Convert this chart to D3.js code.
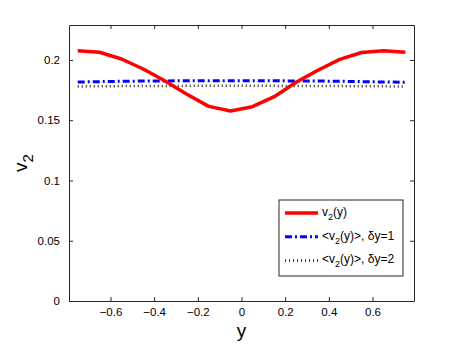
<!DOCTYPE html>
<html>
<head>
<meta charset="utf-8">
<script src="https://cdn.jsdelivr.net/npm/d3@7"></script>
<style>
  body { margin: 0; background: #fff; }
  text { font-family: "Liberation Sans", Arial, sans-serif; }
</style>
</head>
<body>
<script>
// datos
const yPos = [-0.75, -0.65, -0.55, -0.45, -0.35, -0.25, -0.15, -0.05, 0.05, 0.15, 0.25, 0.35, 0.45, 0.55, 0.65, 0.75];
const v2 = [0.2077, 0.2064, 0.2008, 0.1925, 0.1826, 0.1715, 0.1615, 0.1577, 0.1612, 0.1695, 0.1815, 0.1915, 0.2005, 0.2062, 0.2077, 0.2064];
const v2avg1 = [0.1817, 0.1820, 0.1823, 0.1825, 0.1826, 0.1827, 0.1827, 0.1827, 0.1827, 0.1827, 0.1826, 0.1825, 0.1823, 0.1820, 0.1817, 0.1815];
const v2avg2 = [0.1780, 0.1782, 0.1783, 0.1784, 0.1784, 0.1785, 0.1785, 0.1785, 0.1785, 0.1785, 0.1784, 0.1784, 0.1783, 0.1782, 0.1781, 0.1780];
const xTicks = [-0.6, -0.4, -0.2, 0, 0.2, 0.4, 0.6];
const yTicks = [0, 0.05, 0.1, 0.15, 0.2];

const W = 457, H = 344;
const margin = { top: 25, right: 43, bottom: 43, left: 69 };
const width = W - margin.left - margin.right;
const height = H - margin.top - margin.bottom;

const svg = d3.select("body").append("svg")
  .attr("width", W)
  .attr("height", H);

const g = svg.append("g")
  .attr("transform", "translate(" + margin.left + "," + margin.top + ")");

const x = d3.scaleLinear().domain([-0.79, 0.79]).range([0, width]);
const y = d3.scaleLinear().domain([0, 0.229]).range([height, 0]);

const fmtX = (d) => (d < 0 ? "\u2212" + Math.abs(d) : String(d));

// ejes con ticks hacia adentro
const axisColor = "#262626";
const xAxis = g.append("g").attr("transform", "translate(0," + height + ")")
  .call(d3.axisBottom(x).tickValues(xTicks).tickSizeInner(-4).tickSizeOuter(0).tickPadding(7).tickFormat(fmtX));
const yAxis = g.append("g")
  .call(d3.axisLeft(y).tickValues(yTicks).tickSizeInner(-4).tickSizeOuter(0).tickPadding(9).tickFormat((d) => String(d)));
const xTop = g.append("g")
  .call(d3.axisTop(x).tickValues(xTicks).tickSizeInner(-4).tickSizeOuter(0).tickFormat(""));
const yRight = g.append("g").attr("transform", "translate(" + width + ",0)")
  .call(d3.axisRight(y).tickValues(yTicks).tickSizeInner(-4).tickSizeOuter(0).tickFormat(""));

[xAxis, yAxis, xTop, yRight].forEach((a) => {
  a.selectAll("path, line").attr("stroke", axisColor);
  a.selectAll("text").attr("fill", "#000").style("font-size", "11.5px");
});

const line = (vals) => d3.line().x((d, i) => x(yPos[i])).y((d) => y(d))(vals);

g.append("path").attr("d", line(v2avg2))
  .attr("fill", "none").attr("stroke", "#222").attr("stroke-width", 2.5)
  .attr("stroke-dasharray", "1,3");

g.append("path").attr("d", line(v2avg1))
  .attr("fill", "none").attr("stroke", "#0000ff").attr("stroke-width", 3)
  .attr("stroke-dasharray", "7,3,2,3");

g.append("path").attr("d", line(v2))
  .attr("fill", "none").attr("stroke", "#ff0000").attr("stroke-width", 3.5)
  .attr("stroke-linejoin", "round");

// leyenda
const leg = svg.append("g").attr("transform", "translate(279,200)");
leg.append("rect").attr("width", 124).attr("height", 76)
  .attr("fill", "#fff").attr("stroke", axisColor);

const legItems = [
  { color: "#ff0000", w: 3.5, dash: null, label: "v2(y)" },
  { color: "#0000ff", w: 3, dash: "7,3,2,3", label: "<v2(y)>, \u03b4y=1" },
  { color: "#222", w: 2.5, dash: "1,3", label: "<v2(y)>, \u03b4y=2" },
];

legItems.forEach((it, i) => {
  const yy = 13 + i * 23.7;
  leg.append("line").attr("x1", 6).attr("x2", 39).attr("y1", yy).attr("y2", yy)
    .attr("stroke", it.color).attr("stroke-width", it.w)
    .attr("stroke-dasharray", it.dash);
  const t = leg.append("text").attr("x", 43).attr("y", yy + 3).style("font-size", "12px");
  const parts = it.label.split("2(");
  const pre = parts[0].replace(/v$/, "");
  t.append("tspan").text(pre + "v");
  t.append("tspan").attr("dy", 4).style("font-size", "9px").text("2");
  t.append("tspan").attr("dy", -4).text("(" + parts[1]);
});

// etiquetas de ejes
svg.append("text").attr("x", margin.left + x(0)).attr("y", 337)
  .attr("text-anchor", "middle").style("font-size", "19px").text("y");

const yl = svg.append("text").attr("transform", "translate(27,163) rotate(-90)")
  .attr("text-anchor", "middle").style("font-size", "19px");
yl.append("tspan").text("v");
yl.append("tspan").attr("dy", 6).style("font-size", "15px").text("2");
</script>
</body>
</html>
